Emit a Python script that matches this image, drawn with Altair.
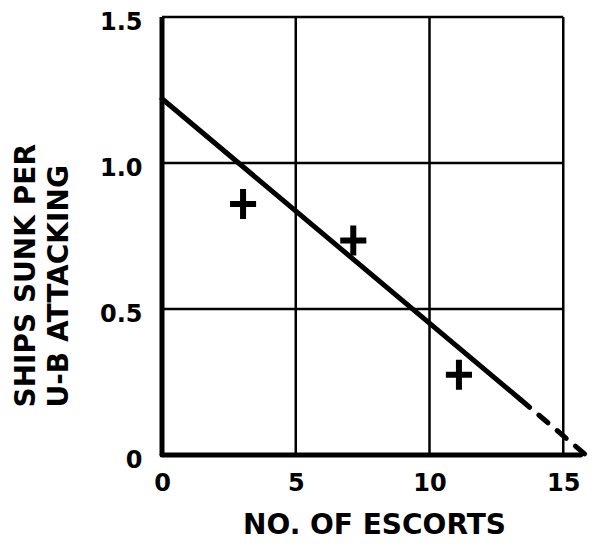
import altair as alt
import pandas as pd

escorts = [3.03, 7.15, 11.1]
ships_sunk = [0.86, 0.735, 0.275]

# Fitted line: solid part and dashed extrapolation
fit_solid_x = [0.0, 13.4]
fit_solid_y = [1.22, 0.19]
fit_dash_x = [13.4, 15.85]
fit_dash_y = [0.19, 0.0]

# Axis ticks / grid
x_ticks = [0, 5, 10, 15]
y_ticks = [0, 0.5, 1.0, 1.5]
x_grid = [5, 10, 15]
y_grid = [0.5, 1.0, 1.5]
x_max_grid = 15
y_max_grid = 1.5
x_axis_end = 15.65

FONT = "DejaVu Sans"

xscale = alt.Scale(domain=[0, 15.85], nice=False, zero=False)
yscale = alt.Scale(domain=[0, 1.5], nice=False, zero=False)

x_axis = alt.Axis(
    values=x_ticks, title="NO. OF ESCORTS", domain=False, ticks=False, grid=False,
    labelFont=FONT, labelFontSize=24, labelFontWeight="bold", labelColor="black",
    labelPadding=16, labelFlush=False,
    titleFont=FONT, titleFontSize=28, titleFontWeight="bold", titleColor="black",
    titleY=78, titleBaseline="alphabetic",
)
y_axis = alt.Axis(
    values=y_ticks, title=["SHIPS SUNK PER", "U-B ATTACKING"], domain=False, ticks=False,
    grid=False, labelExpr="datum.value == 0 ? '0' : format(datum.value, '.1f')",
    labelFont=FONT, labelFontSize=24, labelFontWeight="bold", labelColor="black",
    labelPadding=20, labelFlush=False, labelOffset=5,
    titleFont=FONT, titleFontSize=28, titleFontWeight="bold", titleColor="black",
    titleAngle=270, titleAlign="left", titleBaseline="middle",
    titleX=-136, titleY=390, titleLineHeight=33,
)


def X(field, **kw):
    return alt.X(field, type="quantitative", scale=xscale, axis=x_axis, **kw)


def Y(field, **kw):
    return alt.Y(field, type="quantitative", scale=yscale, axis=y_axis, **kw)


vgrid_df = pd.DataFrame({"x": x_grid, "y0": [0] * len(x_grid), "y1": [y_max_grid] * len(x_grid)})
hgrid_df = pd.DataFrame({"y": y_grid, "x0": [0] * len(y_grid), "x1": [x_max_grid] * len(y_grid)})
left_df = pd.DataFrame({"x": [0], "y0": [0], "y1": [y_max_grid]})
bottom_df = pd.DataFrame({"y": [0], "x0": [0], "x1": [x_axis_end]})
solid_df = pd.DataFrame({"x": fit_solid_x, "y": fit_solid_y})
dash_df = pd.DataFrame({"x": fit_dash_x, "y": fit_dash_y})
pts_df = pd.DataFrame({"x": escorts, "y": ships_sunk})

vgrid = alt.Chart(vgrid_df).mark_rule(color="black", strokeWidth=2.5).encode(
    x=X("x"), y=Y("y0"), y2="y1")
hgrid = alt.Chart(hgrid_df).mark_rule(color="black", strokeWidth=2.5).encode(
    y=Y("y"), x=X("x0"), x2="x1")
left = alt.Chart(left_df).mark_rule(color="black", strokeWidth=5).encode(
    x=X("x"), y=Y("y0"), y2="y1")
bottom = alt.Chart(bottom_df).mark_rule(color="black", strokeWidth=5, strokeCap="round", clip=False).encode(
    y=Y("y"), x=X("x0"), x2="x1")
solid = alt.Chart(solid_df).mark_line(color="black", strokeWidth=5, strokeCap="round", clip=False).encode(
    x=X("x"), y=Y("y"))
dash = alt.Chart(dash_df).mark_line(color="black", strokeWidth=5, strokeCap="round",
                                    strokeDash=[12, 12], clip=False).encode(
    x=X("x"), y=Y("y"))
plus_path = "M-0.87,-0.2H-0.2V-1H0.2V-0.2H0.87V0.2H0.2V1H-0.2V0.2H-0.87Z"
pts = alt.Chart(pts_df).mark_point(shape=plus_path, filled=True, size=900, color="black",
                                   opacity=1, strokeWidth=0).encode(
    x=X("x"), y=Y("y"))

chart = alt.layer(vgrid, hgrid, left, bottom, solid, dash, pts).properties(
    width=424, height=438,
    autosize=alt.AutoSizeParams(type="none"),
    padding={"left": 154, "top": 9, "right": 6, "bottom": 84},
    background="white",
).configure_view(stroke=None)

chart.save("out.html", embed_options={"renderer": "svg", "actions": False})
